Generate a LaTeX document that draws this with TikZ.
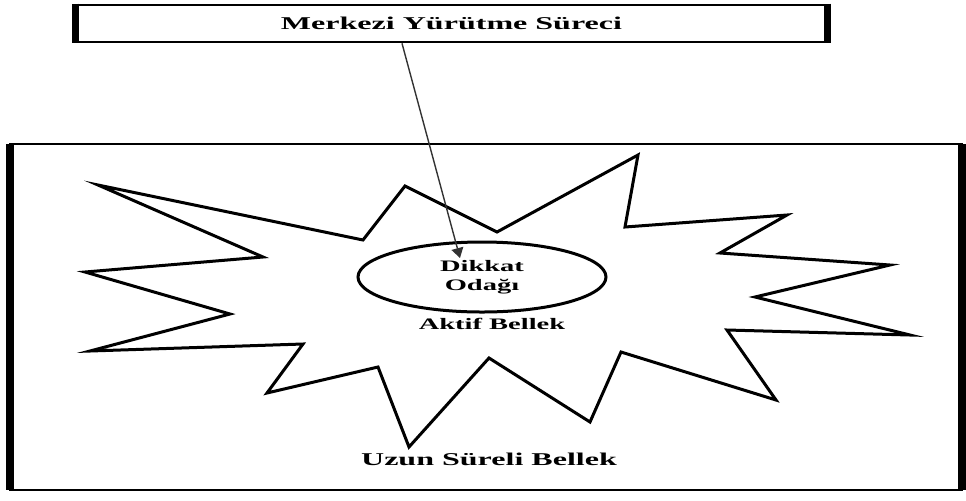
\documentclass[tikz,border=0pt]{standalone}
\usepackage{fontspec}
\setmainfont{Liberation Serif}
\usepackage{graphicx}
\usetikzlibrary{shapes.geometric, arrows.meta, positioning}

\newcommand{\genis}[1]{\scalebox{1.78}[1]{#1}}

\begin{document}
\begin{tikzpicture}[
    x=0.5pt, y=-0.5pt,
    every node/.style={font=\bfseries},
    kutu/.style={rectangle, draw, line width=1.35pt, minimum width=374.5pt, minimum height=18.5pt, inner sep=0pt, font=\bfseries\fontsize{9}{11}\selectfont},
    yan/.style={line width=3.6pt},
    odak/.style={ellipse, draw, line width=1.5pt, minimum width=124pt, minimum height=35pt, align=center, inner sep=0pt, font=\bfseries\fontsize{8}{9.5}\selectfont},
    yildiz/.style={line width=1.5pt},
    etiket/.style={font=\bfseries\fontsize{8}{9.5}\selectfont},
    buyuk/.style={font=\bfseries\fontsize{9}{11}\selectfont},
    ok/.style={-{Triangle[length=5pt, width=6pt]}, line width=0.7pt, draw=black!80}
]
\useasboundingbox (0,0) rectangle (966,500);

% uzun sureli bellek cercevesi
\draw[line width=1.35pt] (10,144) rectangle (962,490);
\draw[yan] (10,144) -- (10,490);
\draw[yan] (962,144) -- (962,490);

% aktif bellek (yildiz)
\draw[yildiz] (98,185) -- (363,240) -- (405,186) -- (497,232) -- (638,155)
    -- (625,227) -- (787,215) -- (720,253) -- (890,265) -- (755,297)
    -- (910,335) -- (727,330) -- (776,400) -- (621,352) -- (590,422)
    -- (489,358) -- (409,447) -- (378,367) -- (267,393) -- (303,344)
    -- (90,351) -- (230,314) -- (85,272) -- (263,257) -- cycle;

\node[kutu] (merkezi) at (451.5,23.5) {\genis{Merkezi Yürütme Süreci}};
\draw[yan] (merkezi.north west) -- (merkezi.south west);
\draw[yan] (merkezi.north east) -- (merkezi.south east);

\node[odak] (dikkat) at (482,277) {\genis{Dikkat}\\\genis{Odağı}};
\node[etiket] (aktif) at (492,324) {\genis{Aktif Bellek}};
\node[buyuk] (uzun) at (489,459) {\genis{Uzun Süreli Bellek}};

\coordinate (hedef) at ([shift={(-11pt,9.5pt)}]dikkat.center);
\draw[ok] ([xshift=-24.75pt]merkezi.south) -- (hedef);

\end{tikzpicture}
\end{document}
